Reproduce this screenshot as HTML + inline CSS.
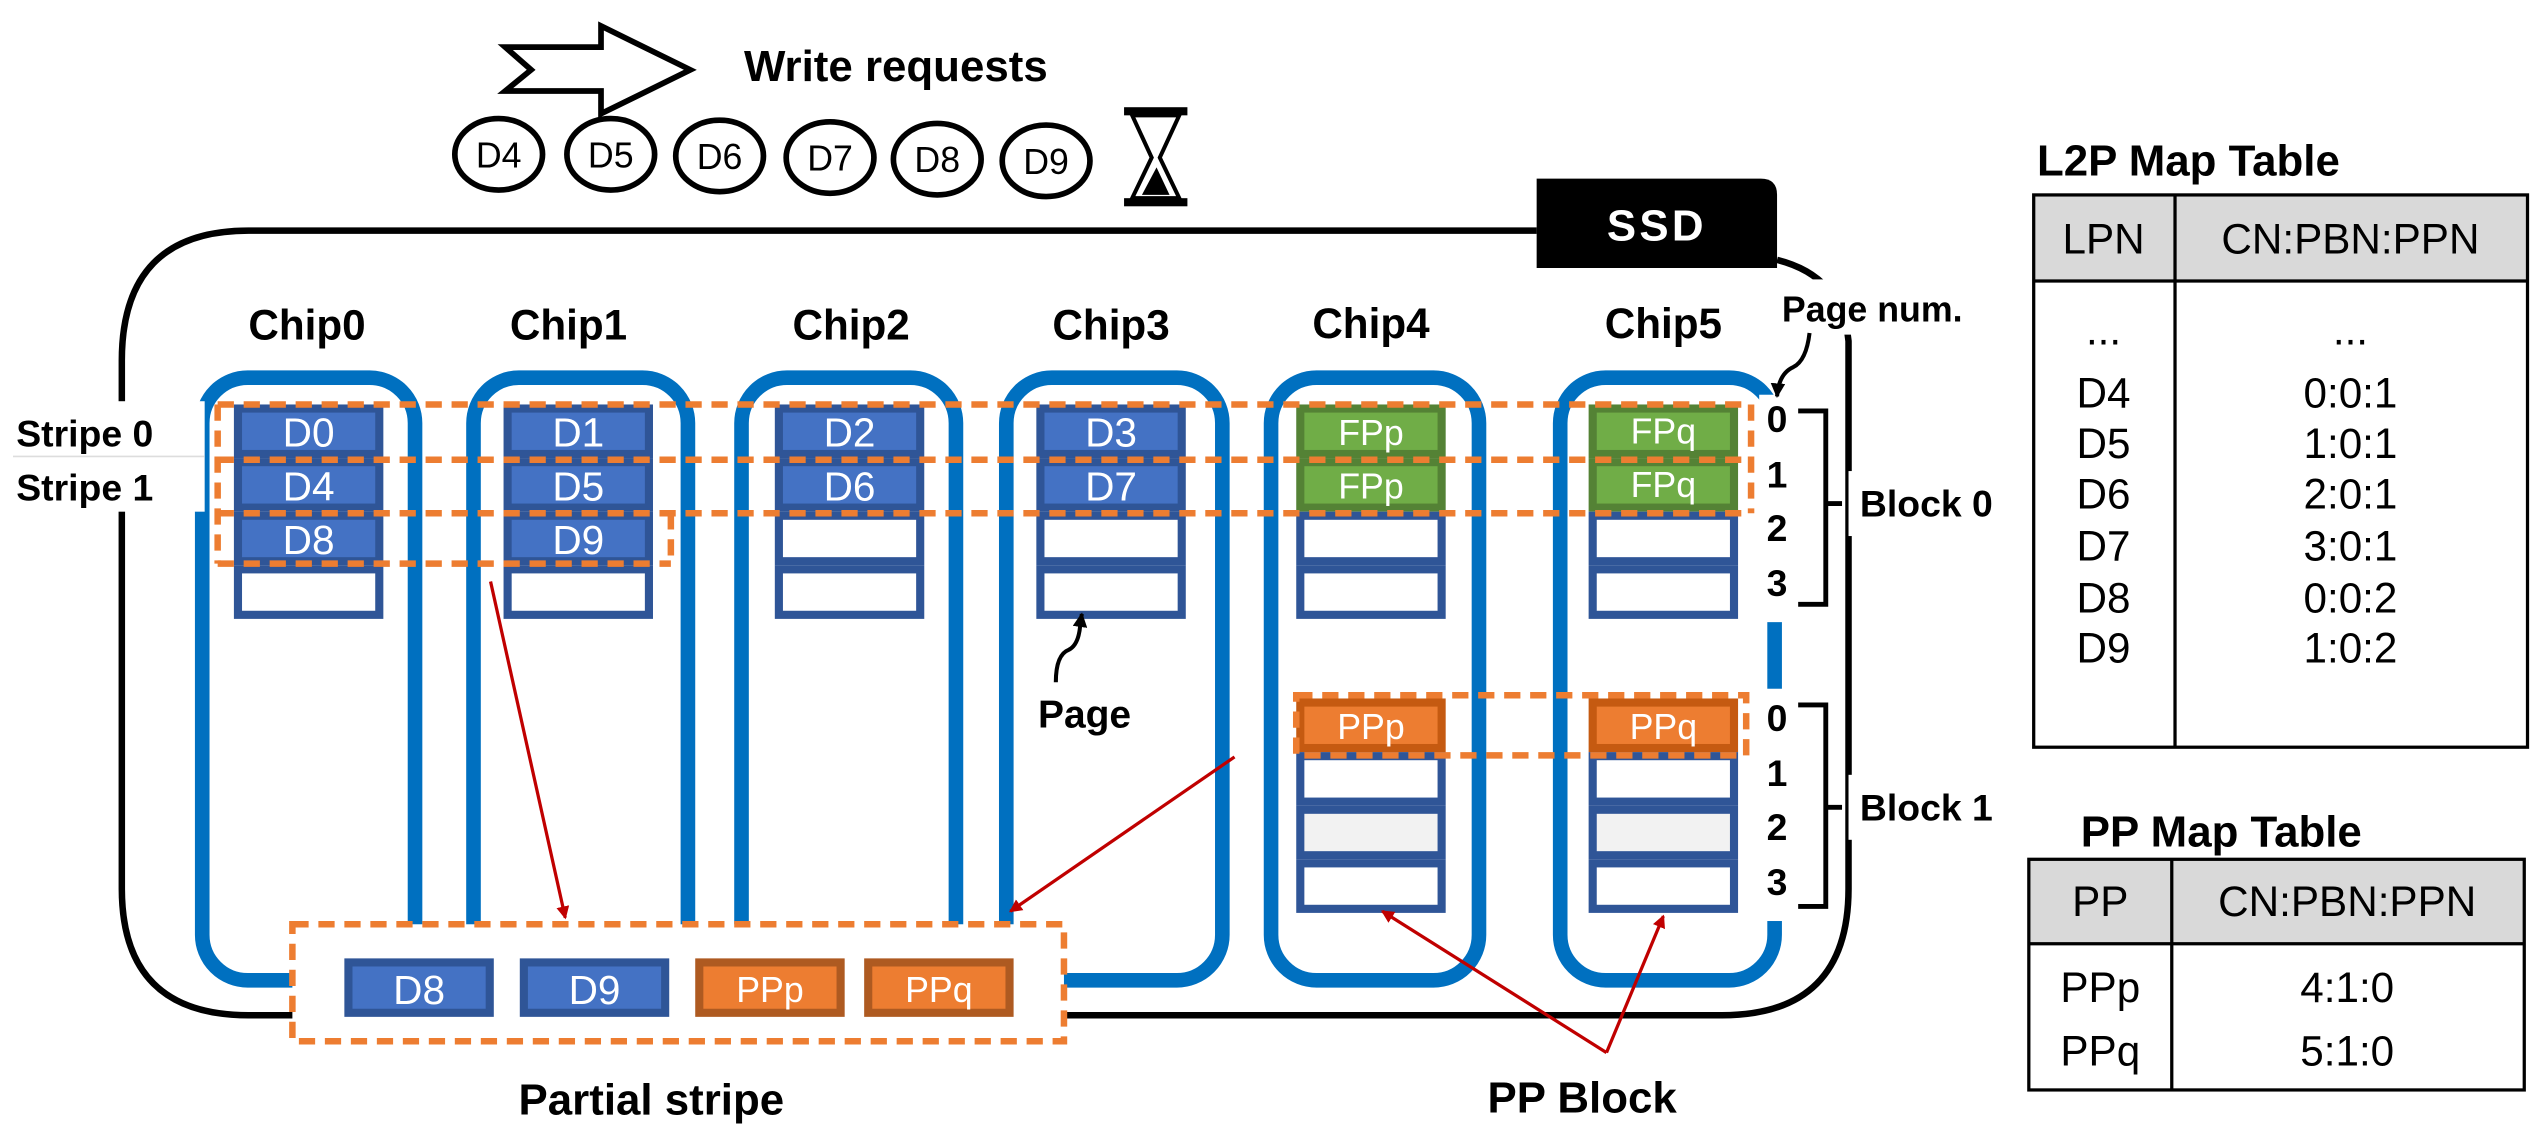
<!DOCTYPE html>
<html><head><meta charset="utf-8"><style>
html,body{margin:0;padding:0;background:#fff;}
svg{display:block;}
text{font-family:"Liberation Sans",sans-serif;}
.b{font-weight:bold;}
</style></head><body>
<svg width="2547" height="1146" viewBox="0 0 1568 705.5" xmlns="http://www.w3.org/2000/svg">
<defs>
<marker id="ar" markerWidth="8" markerHeight="8" refX="7" refY="4" orient="auto" markerUnits="userSpaceOnUse"><path d="M0,0 L8,4 L0,8 z" fill="#C00000"/></marker>
<marker id="ak" markerWidth="9" markerHeight="9" refX="8" refY="4.5" orient="auto" markerUnits="userSpaceOnUse"><path d="M0,0 L9,4.5 L0,9 z" fill="#000"/></marker>
</defs>
<rect width="1568" height="706" fill="#fff"/>

<path d="M311,29 L370,29 L370,16 L425,43 L370,70 L370,56 L311,56 L327,43 Z" fill="#fff" stroke="#000" stroke-width="3.5"/>
<text x="458" y="50" class="b" font-size="27">Write requests</text>
<g fill="#fff" stroke="#000" stroke-width="3.5">
<ellipse cx="307" cy="95" rx="27" ry="22"/><ellipse cx="376" cy="95" rx="27" ry="22"/><ellipse cx="443" cy="96" rx="27" ry="22"/><ellipse cx="511" cy="97" rx="27" ry="22"/><ellipse cx="577" cy="98" rx="27" ry="22"/><ellipse cx="644" cy="99" rx="27" ry="22"/>
</g>
<g font-size="22" text-anchor="middle">
<text x="307" y="103">D4</text><text x="376" y="103">D5</text><text x="443" y="104">D6</text><text x="511" y="105">D7</text><text x="577" y="106">D8</text><text x="644" y="107">D9</text>
</g>
<rect x="692" y="66" width="39" height="5" fill="#000"/><rect x="692" y="122" width="39" height="5" fill="#000"/>
<path d="M697,71 L726,71 L714,97 L726,122 L697,122 L709,97 Z" fill="#fff" stroke="#000" stroke-width="2.5"/>
<path d="M703,120 L720,120 L712,103 Z" fill="#000"/>

<path d="M946,142 L153,142 Q75,142 75,222 L75,547 Q75,625 153,625 L1060,625 Q1138,625 1138,547 L1138,210 Q1134,170 1094,160" fill="none" stroke="#000" stroke-width="4"/>
<path d="M946,110 L1084,110 Q1094,110 1094,120 L1094,165 L946,165 Z" fill="#000"/>
<text x="1020" y="148" text-anchor="middle" fill="#fff" font-size="27" class="b" letter-spacing="2">SSD</text>

<g class="b" font-size="26" text-anchor="middle">
<text x="189" y="209">Chip0</text><text x="350" y="209">Chip1</text><text x="524" y="209">Chip2</text><text x="684" y="209">Chip3</text><text x="844" y="208">Chip4</text><text x="1024" y="208">Chip5</text>
</g>

<g fill="none" stroke="#0070C0" stroke-width="9">
<rect x="124.5" y="232.5" width="131" height="371" rx="28"/>
<rect x="291.5" y="232.5" width="132" height="371" rx="28"/>
<rect x="456.5" y="232.5" width="132" height="371" rx="28"/>
<rect x="619.5" y="232.5" width="133" height="371" rx="28"/>
<rect x="782.5" y="232.5" width="128" height="371" rx="28"/>
<rect x="960.5" y="232.5" width="132" height="371" rx="28"/>
</g>

<rect x="8" y="247" width="118" height="68" fill="#fff"/>
<line x1="8" y1="281" x2="126" y2="281" stroke="#ddd" stroke-width="1"/>
<g class="b" font-size="23"><text x="10" y="275">Stripe 0</text><text x="10" y="308">Stripe 1</text></g>

<g stroke-width="5">
<rect x="146.5" y="251.5" width="87" height="28" fill="#4472C4" stroke="#2F5597"/>
<rect x="146.5" y="284.5" width="87" height="28" fill="#4472C4" stroke="#2F5597"/>
<rect x="146.5" y="317.5" width="87" height="28" fill="#4472C4" stroke="#2F5597"/>
<rect x="146.5" y="350.5" width="87" height="28" fill="#fff" stroke="#2F5597"/>
<rect x="312.5" y="251.5" width="87" height="28" fill="#4472C4" stroke="#2F5597"/>
<rect x="312.5" y="284.5" width="87" height="28" fill="#4472C4" stroke="#2F5597"/>
<rect x="312.5" y="317.5" width="87" height="28" fill="#4472C4" stroke="#2F5597"/>
<rect x="312.5" y="350.5" width="87" height="28" fill="#fff" stroke="#2F5597"/>
<rect x="479.5" y="251.5" width="87" height="28" fill="#4472C4" stroke="#2F5597"/>
<rect x="479.5" y="284.5" width="87" height="28" fill="#4472C4" stroke="#2F5597"/>
<rect x="479.5" y="317.5" width="87" height="28" fill="#fff" stroke="#2F5597"/>
<rect x="479.5" y="350.5" width="87" height="28" fill="#fff" stroke="#2F5597"/>
<rect x="640.5" y="251.5" width="87" height="28" fill="#4472C4" stroke="#2F5597"/>
<rect x="640.5" y="284.5" width="87" height="28" fill="#4472C4" stroke="#2F5597"/>
<rect x="640.5" y="317.5" width="87" height="28" fill="#fff" stroke="#2F5597"/>
<rect x="640.5" y="350.5" width="87" height="28" fill="#fff" stroke="#2F5597"/>
<rect x="800.5" y="251.5" width="87" height="28" fill="#70AD47" stroke="#548235"/>
<rect x="800.5" y="284.5" width="87" height="28" fill="#70AD47" stroke="#548235"/>
<rect x="800.5" y="317.5" width="87" height="28" fill="#fff" stroke="#2F5597"/>
<rect x="800.5" y="350.5" width="87" height="28" fill="#fff" stroke="#2F5597"/>
<rect x="980.5" y="251.5" width="87" height="28" fill="#70AD47" stroke="#548235"/>
<rect x="980.5" y="284.5" width="87" height="28" fill="#70AD47" stroke="#548235"/>
<rect x="980.5" y="317.5" width="87" height="28" fill="#fff" stroke="#2F5597"/>
<rect x="980.5" y="350.5" width="87" height="28" fill="#fff" stroke="#2F5597"/>
<rect x="800.5" y="432.5" width="87" height="28" fill="#ED7D31" stroke="#C55A11"/>
<rect x="800.5" y="465.5" width="87" height="28" fill="#fff" stroke="#2F5597"/>
<rect x="800.5" y="498.5" width="87" height="28" fill="#F2F2F2" stroke="#2F5597"/>
<rect x="800.5" y="531.5" width="87" height="28" fill="#fff" stroke="#2F5597"/>
<rect x="980.5" y="432.5" width="87" height="28" fill="#ED7D31" stroke="#C55A11"/>
<rect x="980.5" y="465.5" width="87" height="28" fill="#fff" stroke="#2F5597"/>
<rect x="980.5" y="498.5" width="87" height="28" fill="#F2F2F2" stroke="#2F5597"/>
<rect x="980.5" y="531.5" width="87" height="28" fill="#fff" stroke="#2F5597"/>
</g>
<g fill="#fff" font-size="25" text-anchor="middle">
<text x="190" y="275">D0</text><text x="190" y="308">D4</text><text x="190" y="341">D8</text>
<text x="356" y="275">D1</text><text x="356" y="308">D5</text><text x="356" y="341">D9</text>
<text x="523" y="275">D2</text><text x="523" y="308">D6</text>
<text x="684" y="275">D3</text><text x="684" y="308">D7</text>
<text x="844" y="274" font-size="22">FPp</text><text x="844" y="307" font-size="22">FPp</text>
<text x="1024" y="273" font-size="22">FPq</text><text x="1024" y="306" font-size="22">FPq</text>
<text x="844" y="455" font-size="22">PPp</text><text x="1024" y="455" font-size="22">PPq</text>
</g>

<g fill="none" stroke="#ED7D31" stroke-width="4" stroke-dasharray="10,6">
<line x1="134" y1="249" x2="1078" y2="249"/>
<line x1="134" y1="283" x2="1078" y2="283"/>
<line x1="134" y1="316" x2="1078" y2="316"/>
<line x1="134" y1="347" x2="413" y2="347"/>
<line x1="134" y1="249" x2="134" y2="347"/>
<line x1="1078" y1="249" x2="1078" y2="316"/>
<line x1="413" y1="316" x2="413" y2="347"/>
<rect x="798" y="428" width="277" height="37"/>
</g>

<rect x="1083" y="243" width="22" height="140" fill="#fff"/>
<rect x="1083" y="424" width="22" height="143" fill="#fff"/>
<g class="b" font-size="23" text-anchor="middle">
<text x="1094" y="266">0</text><text x="1094" y="300">1</text><text x="1094" y="333">2</text><text x="1094" y="367">3</text>
<text x="1094" y="450">0</text><text x="1094" y="484">1</text><text x="1094" y="517">2</text><text x="1094" y="551">3</text>
</g>
<g fill="none" stroke="#000" stroke-width="3">
<path d="M1107,253 L1124,253 L1124,310 L1134,310 M1124,310 L1124,372 L1107,372"/>
<path d="M1107,434 L1124,434 L1124,497 L1134,497 M1124,497 L1124,558 L1107,558"/>
</g>
<rect x="1138" y="290" width="108" height="40" fill="#fff"/>
<rect x="1138" y="477" width="108" height="40" fill="#fff"/>
<g class="b" font-size="23"><text x="1145" y="318">Block 0</text><text x="1145" y="505">Block 1</text></g>

<rect x="1094" y="172" width="146" height="34" fill="#fff"/>
<text x="1097" y="198" class="b" font-size="22">Page num.</text>
<path d="M1114,205 Q1112,222 1104,226 Q1095,230 1094,244" fill="none" stroke="#000" stroke-width="2.5" marker-end="url(#ak)"/>

<text x="639" y="448" class="b" font-size="24">Page</text>
<path d="M650,420 Q650,403 658,400 Q664,397 665,385 L666,378" fill="none" stroke="#000" stroke-width="2.5" marker-end="url(#ak)"/>

<rect x="180" y="569" width="475" height="72" fill="#fff" stroke="#ED7D31" stroke-width="4" stroke-dasharray="10,6"/>
<g stroke-width="5">
<rect x="214.5" y="592.5" width="87" height="31" fill="#4472C4" stroke="#2F5597"/>
<rect x="322.5" y="592.5" width="87" height="31" fill="#4472C4" stroke="#2F5597"/>
<rect x="430.5" y="592.5" width="87" height="31" fill="#ED7D31" stroke="#AE5A21"/>
<rect x="534.5" y="592.5" width="87" height="31" fill="#ED7D31" stroke="#AE5A21"/>
</g>
<g fill="#fff" font-size="25" text-anchor="middle">
<text x="258" y="618">D8</text><text x="366" y="618">D9</text><text x="474" y="617" font-size="22">PPp</text><text x="578" y="617" font-size="22">PPq</text>
</g>
<text x="401" y="686" text-anchor="middle" class="b" font-size="27">Partial stripe</text>
<text x="974" y="685" text-anchor="middle" class="b" font-size="27">PP Block</text>

<g stroke="#C00000" stroke-width="2" fill="none">
<line x1="302" y1="358" x2="348" y2="565" marker-end="url(#ar)"/>
<line x1="760" y1="466" x2="622" y2="561" marker-end="url(#ar)"/>
<line x1="989" y1="648" x2="851" y2="561" marker-end="url(#ar)"/>
<line x1="989" y1="648" x2="1024" y2="564" marker-end="url(#ar)"/>
</g>

<text x="1254" y="108" class="b" font-size="27">L2P Map Table</text>
<rect x="1252" y="120" width="304" height="53" fill="#D9D9D9"/>
<g fill="none" stroke="#000" stroke-width="2">
<rect x="1252" y="120" width="304" height="340"/>
<line x1="1252" y1="173" x2="1556" y2="173"/>
<line x1="1339" y1="120" x2="1339" y2="460"/>
</g>
<g font-size="26" text-anchor="middle">
<text x="1295" y="156">LPN</text><text x="1447" y="156">CN:PBN:PPN</text>
<text x="1295" y="212">...</text><text x="1447" y="212">...</text>
<text x="1295" y="251">D4</text><text x="1447" y="251">0:0:1</text>
<text x="1295" y="282">D5</text><text x="1447" y="282">1:0:1</text>
<text x="1295" y="313">D6</text><text x="1447" y="313">2:0:1</text>
<text x="1295" y="345">D7</text><text x="1447" y="345">3:0:1</text>
<text x="1295" y="377">D8</text><text x="1447" y="377">0:0:2</text>
<text x="1295" y="408">D9</text><text x="1447" y="408">1:0:2</text>
</g>

<text x="1281" y="521" class="b" font-size="27">PP Map Table</text>
<rect x="1249" y="529" width="305" height="52" fill="#D9D9D9"/>
<g fill="none" stroke="#000" stroke-width="2">
<rect x="1249" y="529" width="305" height="142"/>
<line x1="1249" y1="581" x2="1554" y2="581"/>
<line x1="1337" y1="529" x2="1337" y2="671"/>
</g>
<g font-size="26" text-anchor="middle">
<text x="1293" y="564">PP</text><text x="1445" y="564">CN:PBN:PPN</text>
<text x="1293" y="617">PPp</text><text x="1445" y="617">4:1:0</text>
<text x="1293" y="656">PPq</text><text x="1445" y="656">5:1:0</text>
</g>
</svg>
</body></html>
